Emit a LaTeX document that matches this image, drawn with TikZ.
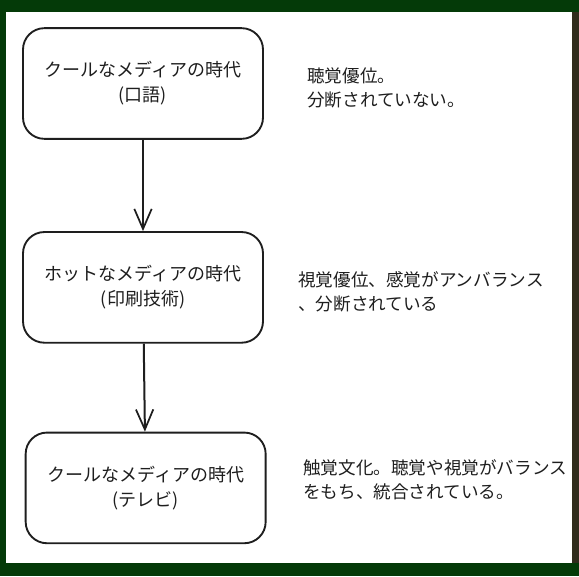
\documentclass[tikz,border=0pt]{standalone}
\usepackage{fontspec}
\usepackage{xcolor}
\usepackage{tikz}
\usetikzlibrary{arrows.meta, positioning}
\setmainfont{Noto Sans CJK JP}
\definecolor{boardgreen}{RGB}{4,58,8}
\definecolor{woodedge}{RGB}{48,44,28}
\definecolor{inkdark}{RGB}{30,30,30}
\tikzset{
  mediabox/.style={rectangle, draw=inkdark, fill=white,
    minimum width=180pt, minimum height=83pt, align=center,
    font=\fontsize{13.5pt}{18.75pt}\selectfont, rounded corners=16pt,
    line width=1.4pt, text=inkdark},
  note/.style={align=left, anchor=west, inner sep=0pt,
    font=\fontsize{13.2pt}{18pt}\selectfont, text=inkdark},
  arrow/.style={-{Straight Barb[length=15pt, width=13pt, line width=1.3pt]},
    line width=1.5pt, color=inkdark}
}

\begin{document}
\begin{tikzpicture}[x=0.75pt, y=-0.75pt, node distance=69pt]
  % board and paper
  \useasboundingbox (0,0) rectangle (579,576);
  \fill[boardgreen] (0,0) rectangle (579,576);
  \fill[woodedge] (572,12) rectangle (579,563);
  \fill[white] (6,12) rectangle (572,563);

  % media eras
  \node[mediabox] (oral) at (143,83.5) {クールなメディアの時代\\(口語)};
  \node[mediabox, below=68.5pt of oral] (print) {ホットなメディアの時代\\(印刷技術)};
  \node[mediabox, below=66pt of print, xshift=2pt] (tv) {クールなメディアの時代\\(テレビ)};

  % connections
  \draw[arrow] (oral) -- (print);
  \draw[arrow] (print) -- (tv);

  % notes
  \node[note] (oralnote) at (307,88) {聴覚優位。\\分断されていない。};
  \node[note] (printnote) at (298,292) {視覚優位、感覚がアンバランス\\、分断されている};
  \node[note] (tvnote) at (303,480) {触覚文化。聴覚や視覚がバランス\\をもち、統合されている。};
\end{tikzpicture}
\end{document}
